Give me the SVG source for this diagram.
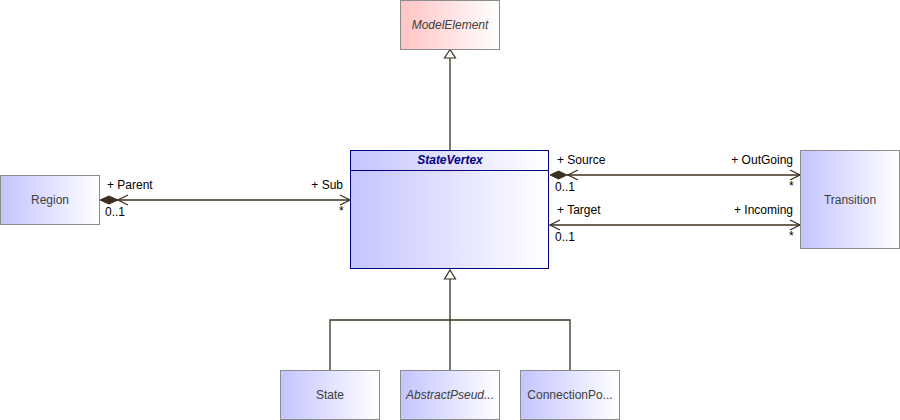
<svg xmlns="http://www.w3.org/2000/svg" width="900" height="420" viewBox="0 0 900 420">
<defs>
<linearGradient id="gb" x1="0" y1="0" x2="1" y2="0"><stop offset="0" stop-color="#c4c4ff"/><stop offset="1" stop-color="#ffffff"/></linearGradient>
<linearGradient id="gr" x1="0" y1="0" x2="1" y2="0"><stop offset="0" stop-color="#ffc4c4"/><stop offset="1" stop-color="#ffffff"/></linearGradient>
<style>
.box{fill:url(#gb);stroke:#8c8c8c;stroke-width:1}
.red{fill:url(#gr);stroke:#8c8c8c;stroke-width:1}
.main{fill:url(#gb);stroke:#000080;stroke-width:1}
.name{font-family:"Liberation Sans",Arial,sans-serif;font-size:12px;fill:#404040;text-anchor:middle}
.it{font-style:italic}
.title{font-family:"Liberation Sans",Arial,sans-serif;font-size:12px;font-weight:bold;font-style:italic;fill:#000080;text-anchor:middle}
.lbl{font-family:"Liberation Sans",Arial,sans-serif;font-size:12px;fill:#000000}
.end{text-anchor:end}
.ln{stroke:#3c3020;stroke-width:1.3;fill:none}
.tri{stroke:#3c3020;stroke-width:1.2;fill:#ffffff}
.dia{stroke:#3c3020;stroke-width:1;fill:#3c3020}
</style>
</defs>
<g id="connectors">
<line class="ln" x1="450" y1="150" x2="450" y2="58"/>
<polygon class="tri" points="450,49.5 455.5,58 444.5,58"/>
<line class="ln" x1="450" y1="279" x2="450" y2="370"/>
<polyline class="ln" points="330,370 330,320 570,320 570,370"/>
<polygon class="tri" points="450,270 455.5,279 444.5,279"/>
<line class="ln" x1="118" y1="200" x2="350" y2="200"/>
<polygon class="dia" points="100,200 109,196 118,200 109,204"/>
<polyline class="ln" points="128,195 118,200 128,205"/>
<polyline class="ln" points="340,195 350,200 340,205"/>
<line class="ln" x1="567" y1="175" x2="800" y2="175"/>
<polygon class="dia" points="550,175 558.5,171 567,175 558.5,179"/>
<polyline class="ln" points="578,170 568,175 578,180"/>
<polyline class="ln" points="790,170 800,175 790,180"/>
<line class="ln" x1="550" y1="225" x2="800" y2="225"/>
<polyline class="ln" points="560,220 550,225 560,230"/>
<polyline class="ln" points="790,220 800,225 790,230"/>
<text class="lbl" x="107" y="189">+ Parent</text>
<text class="lbl" x="105" y="216">0..1</text>
<text class="lbl end" x="343" y="189">+ Sub</text>
<text class="lbl" x="339" y="215">*</text>
<text class="lbl" x="557" y="164">+ Source</text>
<text class="lbl" x="555" y="191">0..1</text>
<text class="lbl end" x="793" y="164">+ OutGoing</text>
<text class="lbl" x="789" y="190">*</text>
<text class="lbl" x="557" y="214">+ Target</text>
<text class="lbl" x="555" y="241">0..1</text>
<text class="lbl end" x="793" y="214">+ Incoming</text>
<text class="lbl" x="789" y="240">*</text>
</g>
<g id="ModelElement">
<rect class="red" x="400.5" y="0.5" width="99" height="49"/>
<text class="name it" x="450" y="29">ModelElement</text>
</g>
<g id="StateVertex">
<rect class="main" x="350.5" y="150.5" width="198" height="118"/>
<line x1="350.5" y1="170.5" x2="548.5" y2="170.5" stroke="#000080" stroke-width="1"/>
<text class="title" x="450" y="164">StateVertex</text>
</g>
<g id="Region">
<rect class="box" x="0.5" y="175.5" width="99" height="49"/>
<text class="name" x="50" y="204">Region</text>
</g>
<g id="Transition">
<rect class="box" x="800.5" y="150.5" width="99" height="98"/>
<text class="name" x="850" y="204">Transition</text>
</g>
<g id="State">
<rect class="box" x="280.5" y="370.5" width="99" height="49"/>
<text class="name" x="330" y="399">State</text>
</g>
<g id="AbstractPseudostate">
<rect class="box" x="400.5" y="370.5" width="99" height="49"/>
<text class="name it" x="450" y="399">AbstractPseud...</text>
</g>
<g id="ConnectionPoint">
<rect class="box" x="520.5" y="370.5" width="99" height="49"/>
<text class="name" x="570" y="399">ConnectionPo...</text>
</g>
</svg>
